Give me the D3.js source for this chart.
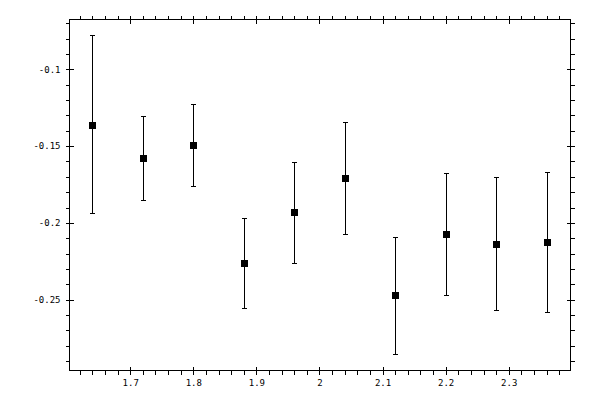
<!DOCTYPE html>
<html><head><meta charset="utf-8">
<script src="https://cdn.jsdelivr.net/npm/d3@7"></script>
<style>body{margin:0;background:#fff}svg{display:block}</style>
</head><body>
<svg id="c" width="600" height="400"></svg>
<script>
const xs = [1.64, 1.72, 1.80, 1.88, 1.96, 2.04, 2.12, 2.20, 2.28, 2.36];
const ys = [-0.136, -0.1576, -0.1491, -0.226, -0.1928, -0.1706, -0.2469, -0.2071, -0.2136, -0.2123];
const yHi = [-0.0778, -0.1302, -0.1226, -0.1965, -0.1602, -0.1341, -0.2091, -0.1673, -0.1700, -0.1667];
const yLo = [-0.1934, -0.1849, -0.1758, -0.2553, -0.226, -0.2071, -0.2853, -0.2469, -0.2565, -0.258];
const xTicks = [1.7, 1.8, 1.9, 2.0, 2.1, 2.2, 2.3];
const xTickLabels = ["1.7", "1.8", "1.9", "2", "2.1", "2.2", "2.3"];
const yTicks = [-0.1, -0.15, -0.2, -0.25];
const yTickLabels = ["-0.1", "-0.15", "-0.2", "-0.25"];
const xMinor = d3.range(81, 120).map(i => i * 0.02).filter(v => v > 1.604 && v < 2.398);
const yMinor = d3.range(-29, -6).map(i => i * 0.01);

const L = 69.5, R = 570.5, T = 19.5, B = 370.5;
const x = d3.scaleLinear().domain([1.6037, 2.3979]).range([L, R]);
const y = d3.scaleLinear().domain([-0.29605, -0.06763]).range([B, T]);

const svg = d3.select("#c");
const g = svg.append("g").attr("shape-rendering", "crispEdges");

g.append("rect").attr("x", L).attr("y", T).attr("width", R - L).attr("height", B - T)
  .attr("fill", "none").attr("stroke", "#000").attr("stroke-width", 1);

const font = "'DejaVu Sans Mono', monospace";
function axis(gen, tr, vals, size, labels) {
  const a = gen.tickValues(vals).tickSize(size).tickPadding(5)
    .tickFormat(labels ? (d, i) => labels[i] : () => "");
  const sel = g.append("g").attr("transform", tr).call(a);
  sel.select(".domain").remove();
  sel.selectAll("line").attr("stroke", "#000");
  sel.selectAll("text").attr("font-family", font).attr("font-size", 9).attr("fill", "#000");
  return sel;
}
// bottom
axis(d3.axisBottom(x), `translate(0,${B})`, xTicks, 4, xTickLabels);
axis(d3.axisTop(x), `translate(0,${B})`, xTicks, 4, null);
axis(d3.axisBottom(x), `translate(0,${B})`, xMinor, 4, null);
// top
axis(d3.axisTop(x), `translate(0,${T})`, xTicks, 4, null);
axis(d3.axisBottom(x), `translate(0,${T})`, xTicks, 4, null);
axis(d3.axisTop(x), `translate(0,${T})`, xMinor, 4, null);
// left
axis(d3.axisLeft(y), `translate(${L},0)`, yTicks, 4, yTickLabels);
axis(d3.axisRight(y), `translate(${L},0)`, yTicks, 4, null);
axis(d3.axisLeft(y), `translate(${L},0)`, yMinor, 4, null);
// right
axis(d3.axisRight(y), `translate(${R},0)`, yTicks, 4, null);
axis(d3.axisLeft(y), `translate(${R},0)`, yTicks, 4, null);
axis(d3.axisRight(y), `translate(${R},0)`, yMinor, 4, null);

const data = xs.map((v, i) => ({x: v, y: ys[i], hi: yHi[i], lo: yLo[i]}));
const pts = g.append("g");
pts.selectAll("line.v").data(data).join("line").attr("class", "v")
  .attr("x1", d => Math.round(x(d.x)) + 0.5).attr("x2", d => Math.round(x(d.x)) + 0.5)
  .attr("y1", d => y(d.hi)).attr("y2", d => y(d.lo)).attr("stroke", "#000");
pts.selectAll("line.ct").data(data).join("line").attr("class", "ct")
  .attr("x1", d => Math.round(x(d.x)) - 2).attr("x2", d => Math.round(x(d.x)) + 3)
  .attr("y1", d => Math.round(y(d.hi)) + 0.5).attr("y2", d => Math.round(y(d.hi)) + 0.5).attr("stroke", "#000");
pts.selectAll("line.cb").data(data).join("line").attr("class", "cb")
  .attr("x1", d => Math.round(x(d.x)) - 2).attr("x2", d => Math.round(x(d.x)) + 3)
  .attr("y1", d => Math.round(y(d.lo)) + 0.5).attr("y2", d => Math.round(y(d.lo)) + 0.5).attr("stroke", "#000");
pts.selectAll("rect").data(data).join("rect")
  .attr("x", d => Math.round(x(d.x)) - 3).attr("y", d => Math.round(y(d.y)) - 3)
  .attr("width", 7).attr("height", 7).attr("fill", "#000");
</script>
</body></html>
